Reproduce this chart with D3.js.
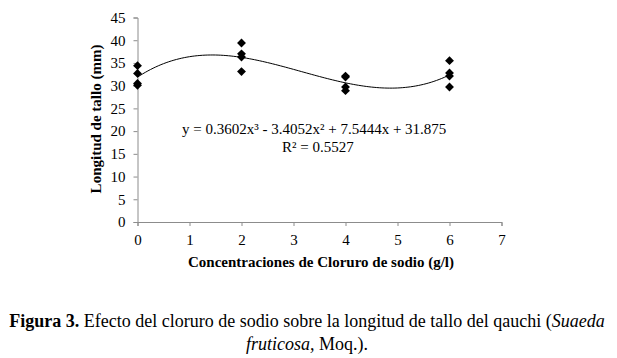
<!DOCTYPE html>
<html><head><meta charset="utf-8">
<script src="https://cdn.jsdelivr.net/npm/d3@7"></script>
<style>body{margin:0;background:#fff}svg{display:block}svg text{font-family:"Liberation Serif","DejaVu Serif",serif}</style>
</head><body>
<script>
const concentrations = [0,0,0,0, 2,2,2,2, 4,4,4,4, 6,6,6,6];
const lengths = [34.4,32.7,30.5,30.1, 39.4,37.0,36.3,33.1, 32.1,31.9,29.7,28.9, 35.5,32.8,32.1,29.7];
const trendCoefficients = [0.3602, -3.4052, 7.5444, 31.875]; // x^3, x^2, x, 1
const xTicks = [0,1,2,3,4,5,6,7];
const yTicks = [0,5,10,15,20,25,30,35,40,45];

const W=617,H=358;
const svg=d3.select("body").append("svg").attr("width",W).attr("height",H);
const x=d3.scaleLinear().domain([0,7]).range([137.5,501.5]);
const y=d3.scaleLinear().domain([0,45]).range([222,17.5]);
const axisColor="#8c8c8c";

const gx=svg.append("g").attr("transform","translate(0,222)")
 .call(d3.axisBottom(x).tickValues(xTicks).tickSize(4).tickFormat(d3.format("d")));
const gy=svg.append("g").attr("transform","translate(137.5,0)")
 .call(d3.axisLeft(y).tickValues(yTicks).tickSize(4).tickFormat(d3.format("d")));
[gx,gy].forEach(g=>{
 g.attr("font-family",null);
 g.selectAll("path,line").attr("stroke",axisColor);
 g.selectAll("text").attr("font-size",15).attr("fill","#000");
});
gx.selectAll("text").attr("dy",null).attr("y",23);
gy.selectAll("text").attr("x",-12);

// trendline
const f=t=>trendCoefficients[0]*t*t*t+trendCoefficients[1]*t*t+trendCoefficients[2]*t+trendCoefficients[3];
const xs=d3.range(0,6.0001,0.05);
svg.append("path").datum(xs)
 .attr("d",d3.line().x(d=>x(d)).y(d=>y(f(d))))
 .attr("fill","none").attr("stroke","#000").attr("stroke-width",1);

// points
svg.selectAll(".pt").data(concentrations.map((c,i)=>[c,lengths[i]])).join("path")
 .attr("d",d3.symbol(d3.symbolDiamond2,50)())
 .attr("transform",d=>`translate(${x(d[0])},${y(d[1])})`)
 .attr("fill","#000");

// equation
svg.append("text").attr("x",182).attr("y",134).attr("font-size",15)
 .text("y = 0.3602x³ - 3.4052x² + 7.5444x + 31.875");
svg.append("text").attr("x",282).attr("y",152).attr("font-size",15)
 .text("R² = 0.5527");

// axis titles
svg.append("text").attr("transform","translate(101,119) rotate(-90)").attr("text-anchor","middle")
 .attr("font-size",15).attr("font-weight","bold").text("Longitud de tallo (mm)");
svg.append("text").attr("x",321).attr("y",267).attr("text-anchor","middle")
 .attr("font-size",15).attr("font-weight","bold").text("Concentraciones de Cloruro de sodio (g/l)");

// caption
const c1=svg.append("text").attr("x",307).attr("y",327).attr("text-anchor","middle").attr("font-size",18);
c1.append("tspan").attr("font-weight","bold").text("Figura 3.");
c1.append("tspan").text(" Efecto del cloruro de sodio sobre la longitud de tallo del qauchi (");
c1.append("tspan").attr("font-style","italic").text("Suaeda");
const c2=svg.append("text").attr("x",307).attr("y",350).attr("text-anchor","middle").attr("font-size",18);
c2.append("tspan").attr("font-style","italic").text("fruticosa,");
c2.append("tspan").text(" Moq.).");
</script>
</body></html>
